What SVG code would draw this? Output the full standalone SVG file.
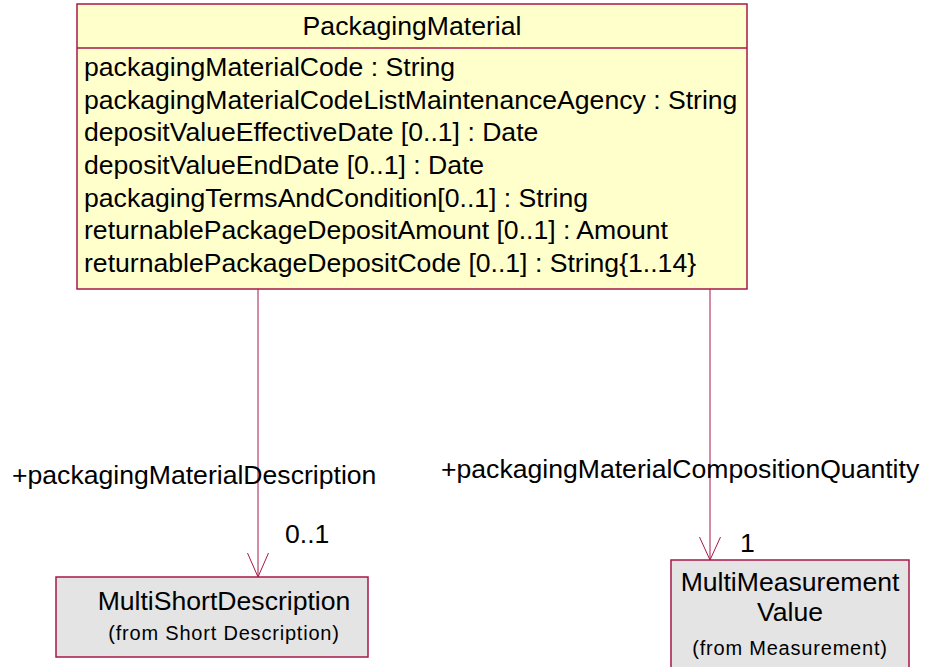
<svg xmlns="http://www.w3.org/2000/svg" width="927" height="667" viewBox="0 0 927 667">
<style>
text{font-family:"Liberation Sans",Arial,sans-serif;fill:#000}
.t{font-size:26.6px}
.s{font-size:20px;letter-spacing:0.8px}
.box{stroke:#a8174a;stroke-width:1.5}
.cls{fill:#ffffcc}
.ext{fill:#e4e4e4}
.con{stroke:#a8174a;stroke-width:1;fill:none}
</style>
<rect width="927" height="667" fill="#fff"/>
<g id="PackagingMaterial">
<rect class="box cls" x="77" y="4" width="670" height="285"/>
<line class="box" x1="77" y1="48" x2="747" y2="48"/>
<text class="t" x="412" y="35" text-anchor="middle">PackagingMaterial</text>
<text class="t" x="84" y="76">packagingMaterialCode : String</text>
<text class="t" x="84" y="108.7">packagingMaterialCodeListMaintenanceAgency : String</text>
<text class="t" x="84" y="141.4">depositValueEffectiveDate [0..1] : Date</text>
<text class="t" x="84" y="174">depositValueEndDate [0..1] : Date</text>
<text class="t" x="84" y="206.7">packagingTermsAndCondition[0..1] : String</text>
<text class="t" x="84" y="239.4">returnablePackageDepositAmount [0..1] : Amount</text>
<text class="t" x="84" y="272">returnablePackageDepositCode [0..1] : String{1..14}</text>
</g>
<g id="MultiShortDescription">
<rect class="box ext" x="56" y="577" width="312" height="80"/>
<text class="t" x="224" y="610" text-anchor="middle">MultiShortDescription</text>
<text class="s" x="224" y="640" text-anchor="middle">(from Short Description)</text>
</g>
<g id="MultiMeasurementValue">
<rect class="box ext" x="671" y="560" width="238" height="112"/>
<text class="t" x="790" y="591" text-anchor="middle">MultiMeasurement</text>
<text class="t" x="790" y="621" text-anchor="middle">Value</text>
<text class="s" x="790" y="655" text-anchor="middle">(from Measurement)</text>
</g>
<g id="connectors">
<line class="con" x1="258" y1="289" x2="258" y2="577"/>
<polyline class="con" points="247.5,553 258,577 268.5,553"/>
<text class="t" x="12" y="484">+packagingMaterialDescription</text>
<text class="t" x="285" y="543">0..1</text>
<line class="con" x1="710" y1="289" x2="710" y2="560"/>
<polyline class="con" points="699.5,537 710,560 720.5,537"/>
<text class="t" x="441" y="478">+packagingMaterialCompositionQuantity</text>
<text class="t" x="740" y="552">1</text>
</g>
</svg>
